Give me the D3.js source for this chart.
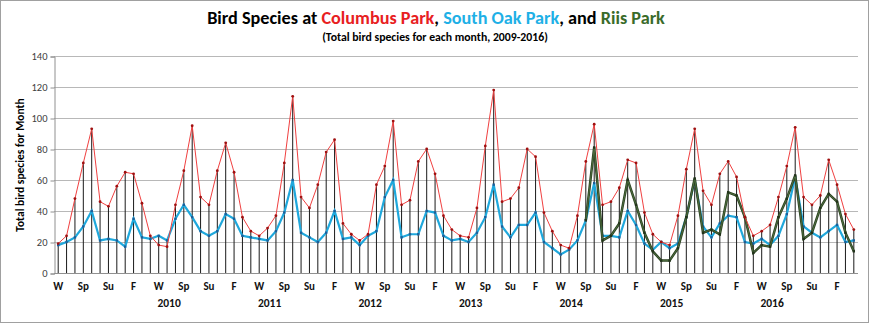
<!DOCTYPE html>
<html><head><meta charset="utf-8">
<script src="https://cdn.jsdelivr.net/npm/d3@7"></script>
<style>body{margin:0;background:#fff}svg{display:block}</style>
</head><body>
<svg id="c" width="869" height="323"></svg>
<script>
// ---- data ----
const seasonLabels = ["W","","","Sp","","","Su","","","F","",""];
const yearLabels = ["2010","2011","2012","2013","2014","2015","2016"];
const yearIndex = [13,25,37,49,61,73,85];
const yTicks = [0,20,40,60,80,100,120,140];
const columbus = [
 19,24,48,71,93,46,43,56,65,64,45,24,
 18,17,44,66,95,49,44,66,84,65,36,27,
 24,29,37,71,114,49,42,57,78,86,32,25,
 21,25,57,69,98,44,47,72,80,64,37,28,
 24,23,42,82,118,46,48,55,80,75,39,27,
 18,16,37,72,96,44,46,55,73,71,39,25,
 20,18,37,67,93,53,44,64,72,62,36,24,
 27,31,49,69,94,49,44,50,73,57,38,28];
const southOak = [
 18,20,23,30,40,21,22,21,17,35,23,22,
 24,21,35,44,36,27,24,27,38,35,24,23,
 22,21,27,39,60,26,23,20,26,40,22,23,
 18,24,27,49,60,23,25,25,40,39,24,21,
 22,20,26,36,57,30,23,31,31,39,20,16,
 12,15,21,34,58,24,24,23,40,31,19,15,
 20,16,19,36,60,30,23,32,37,36,20,19,
 22,18,24,38,62,30,26,23,27,31,20,21];
const riis = [
 null,null,null,null,null,null,null,null,null,null,null,null,
 null,null,null,null,null,null,null,null,null,null,null,null,
 null,null,null,null,null,null,null,null,null,null,null,null,
 null,null,null,null,null,null,null,null,null,null,null,null,
 null,null,null,null,null,null,null,null,null,null,null,null,
 null,null,null,34,81,21,24,32,60,44,26,14,
 8,8,16,36,61,26,28,25,52,50,36,13,
 18,17,36,48,63,22,26,42,51,46,26,14];
const months = d3.range(columbus.length);

// ---- layout ----
const svg = d3.select("#c");
const L=54, R=858, T=56, B=273;
const x = d3.scaleBand().domain(months).range([L,R]).padding(0);
const cx = i => x(i) + x.bandwidth()/2;
const y = d3.scaleLinear().domain([0,140]).range([B,T]);
const font = "Carlito, Calibri, Lato, 'Open Sans', sans-serif";

svg.append("rect").attr("x",0.5).attr("y",0.5).attr("width",868).attr("height",322)
  .attr("fill","#fff").attr("stroke","#a0a0a0");

// gridlines
svg.append("g").selectAll("line").data(yTicks.filter(d=>d>0)).join("line")
  .attr("x1",L).attr("x2",R).attr("y1",d=>Math.round(y(d))+0.5).attr("y2",d=>Math.round(y(d))+0.5)
  .attr("stroke","#b8b8b8").attr("stroke-width",1);

// y axis
const yAxis = d3.axisLeft(y).tickValues(yTicks).tickSize(4).tickPadding(3);
const gy = svg.append("g").attr("transform",`translate(${L+0.5},0.5)`).call(yAxis);
gy.select(".domain").attr("stroke","#909090");
gy.selectAll(".tick line").attr("stroke","#909090");
gy.selectAll(".tick text").attr("font-family",font).attr("font-size",10.5).attr("fill","#404040");

// drop lines
svg.append("g").selectAll("line").data(months).join("line")
  .attr("x1",cx).attr("x2",cx)
  .attr("y1",i=>y(Math.max(columbus[i],southOak[i],riis[i]==null?0:riis[i])))
  .attr("y2",y(0))
  .attr("stroke","#1a1a1a").attr("stroke-width",1);

// x axis line
svg.append("line").attr("x1",L).attr("x2",R).attr("y1",B+0.5).attr("y2",B+0.5).attr("stroke","#909090");

// series
const line = arr => d3.line().defined(i=>arr[i]!=null).x(cx).y(i=>y(arr[i]))(months);
svg.append("path").attr("d",line(southOak)).attr("fill","none").attr("stroke","#1fa8dc").attr("stroke-width",2.2);
svg.append("g").selectAll("rect").data(months).join("rect")
  .attr("x",i=>cx(i)-1.2).attr("y",i=>y(southOak[i])-1.2).attr("width",2.4).attr("height",2.4).attr("fill","#1b5f9a");

svg.append("path").attr("d",line(riis)).attr("fill","none").attr("stroke","#2c4222").attr("stroke-width",2.5);
svg.append("path").attr("d",line(riis)).attr("fill","none").attr("stroke","#4d6d3e").attr("stroke-width",1);
svg.append("g").selectAll("rect").data(months.filter(i=>riis[i]!=null)).join("rect")
  .attr("x",i=>cx(i)-1.2).attr("y",i=>y(riis[i])-1.2).attr("width",2.4).attr("height",2.4).attr("fill","#22331a");

svg.append("path").attr("d",line(columbus)).attr("fill","none").attr("stroke","#f04040").attr("stroke-width",1);
svg.append("g").selectAll("circle").data(months).join("circle")
  .attr("cx",cx).attr("cy",i=>y(columbus[i])).attr("r",1.4).attr("fill","#a01010");

// x labels
svg.append("g").selectAll("text").data(months.filter(i=>seasonLabels[i%12]!=="")).join("text")
  .attr("x",cx).attr("y",290).attr("text-anchor","middle")
  .attr("font-family",font).attr("font-weight","bold").attr("font-size",11).attr("fill","#111")
  .text(i=>seasonLabels[i%12]);
svg.append("g").selectAll("text").data(yearLabels).join("text")
  .attr("x",(d,k)=>cx(yearIndex[k])+2).attr("y",307).attr("text-anchor","middle")
  .attr("font-family",font).attr("font-weight","bold").attr("font-size",11.5).attr("fill","#111")
  .text(d=>d);

// titles
function fit(sel, target){
  const w = sel.node().getComputedTextLength();
  const cxp = +sel.attr("x");
  sel.attr("transform",`translate(${cxp},0) scale(${target/w},1) translate(${-cxp},0)`);
}
const title = svg.append("text").attr("x",436).attr("y",24).attr("text-anchor","middle")
  .attr("font-family",font).attr("font-weight","bold").attr("font-size",17).attr("fill","#000");
[["Bird Species at ","#000"],["Columbus Park","#e8201f"],[", ","#000"],["South Oak Park","#1eb0e6"],[", and ","#000"],["Riis Park","#3a6b2a"]]
  .forEach(([t,c])=>title.append("tspan").attr("fill",c).text(t));
fit(title,458);
const sub = svg.append("text").attr("x",435).attr("y",41).attr("text-anchor","middle")
  .attr("font-family",font).attr("font-weight","bold").attr("font-size",11).attr("fill","#000")
  .text("(Total bird species for each month, 2009-2016)");
fit(sub,226);
const yl = svg.append("text").attr("transform","translate(24,165) rotate(-90)").attr("text-anchor","middle")
  .attr("font-family",font).attr("font-weight","bold").attr("font-size",11.5).attr("fill","#000")
  .text("Total bird species for Month");
</script>
</body></html>
